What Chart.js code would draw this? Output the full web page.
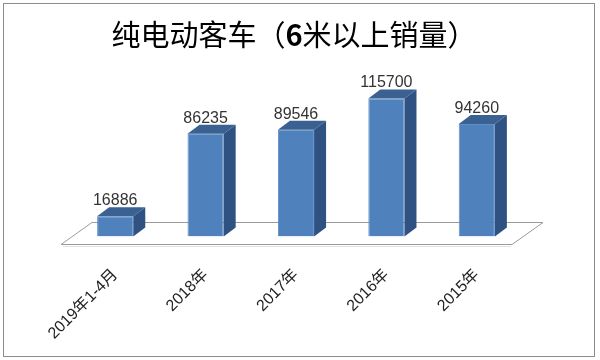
<!DOCTYPE html>
<html lang="zh">
<head>
<meta charset="UTF-8">
<title>纯电动客车</title>
<script src="https://cdn.jsdelivr.net/npm/chart.js@4/dist/chart.umd.min.js"></script>
<style>
  body { margin: 0; background: #fff; }
  #wrap { position: absolute; left: 0; top: 0; width: 600px; height: 360px; }
</style>
</head>
<body>
<div id="wrap"><canvas id="c" width="600" height="360"></canvas></div>
<script>
// data
const labels = ['2019年1-4月', '2018年', '2017年', '2016年', '2015年'];
const sales = [16886, 86235, 89546, 115700, 94260];
// title in pieces, the "6" is bold
const titleParts = [['纯电动客车（', 'normal'], ['6', 'bold'], ['米以上销量）', 'normal']];

const font = '"Liberation Sans", "Noto Sans CJK SC", sans-serif';
const titleFont = '"Noto Sans CJK SC", sans-serif';
const DX = 12, DY = 9;   // depth of the 3d bars

// frame round the whole chart and the title
const framePlugin = {
  id: 'frame',
  beforeDraw(chart) {
    const ctx = chart.ctx;
    ctx.save();
    ctx.strokeStyle = '#8c8c8c';
    ctx.lineWidth = 1;
    ctx.strokeRect(3.5, 3.5, 591, 353);

    ctx.fillStyle = '#000';
    ctx.textBaseline = 'middle';
    ctx.textAlign = 'left';
    let total = 0;
    titleParts.forEach(p => {
      ctx.font = p[1] + ' 29px ' + titleFont;
      total += ctx.measureText(p[0]).width;
    });
    let x = 294 - total / 2;
    titleParts.forEach(p => {
      ctx.font = p[1] + ' 29px ' + titleFont;
      ctx.fillText(p[0], x, 35);
      x += ctx.measureText(p[0]).width;
    });
    ctx.restore();
  }
};

// the floor under the bars
const floorPlugin = {
  id: 'floor',
  beforeDatasetsDraw(chart) {
    const ctx = chart.ctx;
    const a = chart.chartArea;
    const base = chart.scales.y.getPixelForValue(0);
    const fy = Math.round(base + 7) + 0.5, by = Math.round(base - 15) + 0.5;
    ctx.save();
    ctx.beginPath();
    ctx.moveTo(a.left - 9, fy);
    ctx.lineTo(a.left + 22, by);
    ctx.lineTo(a.right + 21, by);
    ctx.lineTo(a.right - 10, fy);
    ctx.closePath();
    ctx.fillStyle = '#ffffff';
    ctx.fill();
    ctx.strokeStyle = '#9a9a9a';
    ctx.lineWidth = 1;
    ctx.stroke();
    ctx.beginPath();
    ctx.moveTo(a.left - 7, fy + 2);
    ctx.lineTo(a.right - 11, fy + 2);
    ctx.strokeStyle = '#e2e2e2';
    ctx.stroke();
    ctx.restore();
  }
};

// side and top faces + value labels
const bar3dPlugin = {
  id: 'bar3d',
  afterDatasetsDraw(chart) {
    const ctx = chart.ctx;
    const meta = chart.getDatasetMeta(0);
    ctx.save();
    meta.data.forEach((bar, i) => {
      const l = bar.x - bar.width / 2, r = bar.x + bar.width / 2;
      const t = bar.y, b = bar.base;
      // side
      ctx.beginPath();
      ctx.moveTo(r, t);
      ctx.lineTo(r + DX, t - DY);
      ctx.lineTo(r + DX, b - DY);
      ctx.lineTo(r, b);
      ctx.closePath();
      ctx.fillStyle = '#2f5282';
      ctx.fill();
      // top
      ctx.beginPath();
      ctx.moveTo(l, t);
      ctx.lineTo(l + DX, t - DY);
      ctx.lineTo(r + DX, t - DY);
      ctx.lineTo(r, t);
      ctx.closePath();
      ctx.fillStyle = '#3a6192';
      ctx.fill();
      // value
      ctx.fillStyle = '#333333';
      ctx.font = '16px ' + font;
      ctx.textAlign = 'center';
      ctx.textBaseline = 'alphabetic';
      ctx.fillText(String(sales[i]), bar.x, t - 11);
    });
    ctx.restore();
  }
};

new Chart(document.getElementById('c'), {
  type: 'bar',
  data: {
    labels: labels,
    datasets: [{
      data: sales,
      backgroundColor: '#4f81bd',
      borderColor: '#5f8fca',
      borderWidth: 1,
      barPercentage: 0.4,
      categoryPercentage: 1
    }]
  },
  options: {
    responsive: false,
    animation: false,
    layout: { padding: { left: 70, right: 78, top: 69.5, bottom: 0 } },
    plugins: {
      legend: { display: false },
      tooltip: { enabled: false },
      title: { display: false }
    },
    scales: {
      x: {
        grid: { display: false, drawTicks: false },
        border: { display: false },
        ticks: {
          minRotation: 45,
          maxRotation: 45,
          padding: 29,
          color: '#222222',
          font: { family: font, size: 16 }
        },
        afterFit(s) { s.height = 123.5; }
      },
      y: {
        display: false,
        min: 0,
        max: 140000
      }
    }
  },
  plugins: [framePlugin, floorPlugin, bar3dPlugin]
});
</script>
</body>
</html>
